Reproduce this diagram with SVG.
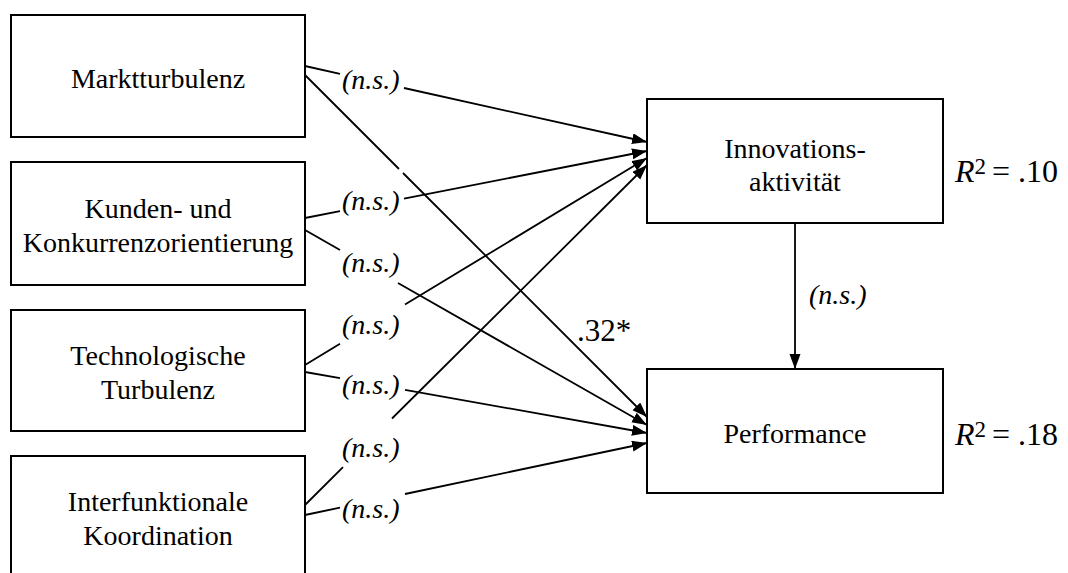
<svg xmlns="http://www.w3.org/2000/svg" width="1068" height="573" viewBox="0 0 1068 573">
<style>
  .box { fill: #fff; stroke: #000; stroke-width: 2; }
  .lbl { font-family: "Liberation Serif", "Times New Roman", serif; font-size: 28px; fill: #000; }
  .big { font-family: "Liberation Serif", "Times New Roman", serif; font-size: 32px; fill: #000; }
  .coef { font-family: "Liberation Serif", "Times New Roman", serif; font-size: 31px; fill: #000; }
  .ctr { text-anchor: middle; }
  .ns { font-family: "Liberation Serif", "Times New Roman", serif; font-size: 28px; font-style: italic; fill: #000; }
  .conn { fill: none; stroke: #000; stroke-width: 1.8; marker-end: url(#arr); }
</style>
<defs>
  <marker id="arr" markerUnits="userSpaceOnUse" markerWidth="16" markerHeight="12" refX="15" refY="5.5" orient="auto">
    <path d="M0,0 L15,5.5 L0,11 z" fill="#000"/>
  </marker>
</defs>
<rect width="1068" height="573" fill="#fff"/>

<g id="connectors">
  <path class="conn" d="M305,66 L340,73.8 M404,88 L647,142"/>
  <path class="conn" d="M305,75 L399,169 M403,173 L647,417"/>
  <path class="conn" d="M305,218 L340,211.1 M404,198.6 L647,151"/>
  <path class="conn" d="M305,230 L340,250 M398,283 L647,425"/>
  <path class="conn" d="M305,365 L340,343.8 M405,304.5 L647,158"/>
  <path class="conn" d="M305,372 L340,378.2 M405,389.8 L647,433"/>
  <path class="conn" d="M305,505 L343,467.2 M392,418.5 L647,165"/>
  <path class="conn" d="M305,515 L340,507.6 M405,494 L647,443"/>
  <path class="conn" d="M795,223 L795,369"/>
</g>

<g id="labels">
  <text class="ns" x="342" y="89">(n.s.)</text>
  <text class="ns" x="342" y="210">(n.s.)</text>
  <text class="ns" x="342" y="272">(n.s.)</text>
  <text class="ns" x="342" y="334">(n.s.)</text>
  <text class="ns" x="342" y="394">(n.s.)</text>
  <text class="ns" x="342" y="457">(n.s.)</text>
  <text class="ns" x="342" y="518">(n.s.)</text>
  <text class="coef" x="577" y="341">.32*</text>
  <text class="ns" x="809" y="304">(n.s.)</text>
</g>

<g id="node-markt">
  <rect class="box" x="11" y="15" width="294" height="122"/>
  <text class="lbl ctr" x="158" y="88">Marktturbulenz</text>
</g>
<g id="node-kunden">
  <rect class="box" x="11" y="162" width="294" height="123"/>
  <text class="lbl ctr" x="158" y="218">Kunden- und</text>
  <text class="lbl ctr" x="158" y="252">Konkurrenzorientierung</text>
</g>
<g id="node-techno">
  <rect class="box" x="11" y="310" width="294" height="121"/>
  <text class="lbl ctr" x="158" y="365">Technologische</text>
  <text class="lbl ctr" x="158" y="399">Turbulenz</text>
</g>
<g id="node-inter">
  <rect class="box" x="11" y="456" width="294" height="124"/>
  <text class="lbl ctr" x="158" y="511">Interfunktionale</text>
  <text class="lbl ctr" x="158" y="545">Koordination</text>
</g>
<g id="node-innovation">
  <rect class="box" x="647" y="99" width="296" height="124"/>
  <text class="lbl ctr" x="795" y="158">Innovations-</text>
  <text class="lbl ctr" x="795" y="191">aktivität</text>
</g>
<g id="node-performance">
  <rect class="box" x="647" y="369" width="296" height="124"/>
  <text class="lbl ctr" x="795" y="443">Performance</text>
</g>
<g id="r2">
  <text class="big" y="182"><tspan x="955" font-style="italic">R</tspan><tspan font-size="23" dy="-8">2</tspan><tspan x="992" dy="8">=</tspan><tspan x="1018">.10</tspan></text>
  <text class="big" y="445"><tspan x="955" font-style="italic">R</tspan><tspan font-size="23" dy="-8">2</tspan><tspan x="992" dy="8">=</tspan><tspan x="1018">.18</tspan></text>
</g>
</svg>
